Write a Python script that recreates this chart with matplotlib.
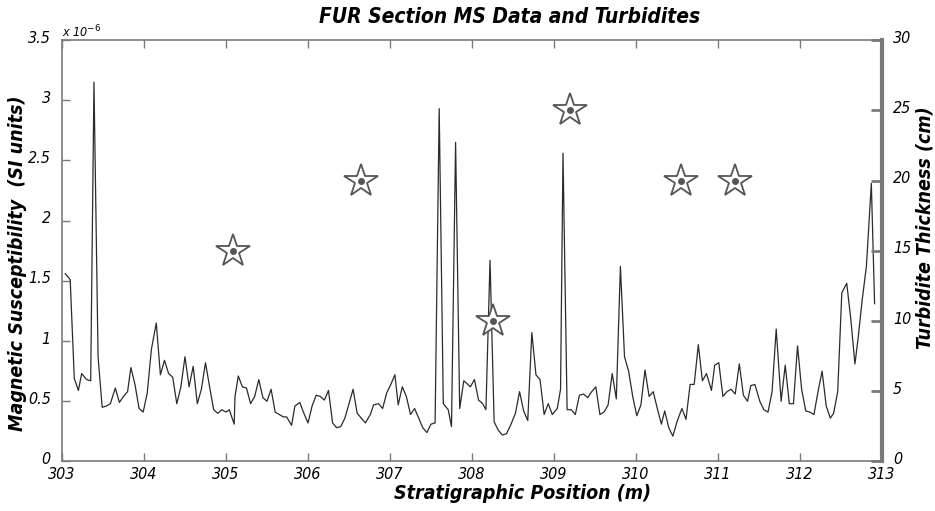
import matplotlib
matplotlib.use("Agg")
import matplotlib.pyplot as plt
from matplotlib import font_manager
from matplotlib.transforms import ScaledTranslation

# Magnetic susceptibility record (values in units of 1e-6 SI)
position_m = [
    303.04, 303.10, 303.15, 303.20, 303.24, 303.30, 303.35, 303.39, 303.44, 303.49,
    303.54, 303.59, 303.65, 303.70, 303.75, 303.80, 303.84, 303.89, 303.94, 303.99,
    304.04, 304.09, 304.15, 304.20, 304.25, 304.30, 304.35, 304.40, 304.45, 304.50,
    304.55, 304.60, 304.65, 304.70, 304.75, 304.80, 304.85, 304.90, 304.95, 305.00,
    305.04, 305.10, 305.11, 305.15, 305.20, 305.25, 305.30, 305.35, 305.40, 305.45,
    305.50, 305.55, 305.60, 305.65, 305.70, 305.74, 305.80, 305.84, 305.90, 305.95,
    306.00, 306.05, 306.10, 306.15, 306.20, 306.25, 306.30, 306.35, 306.40, 306.45,
    306.50, 306.55, 306.60, 306.65, 306.70, 306.76, 306.80, 306.86, 306.91, 306.96,
    307.01, 307.06, 307.10, 307.15, 307.20, 307.25, 307.30, 307.35, 307.40, 307.45,
    307.50, 307.55, 307.60, 307.65, 307.71, 307.75, 307.80, 307.85, 307.90, 307.95,
    307.98, 308.03, 308.08, 308.13, 308.17, 308.22, 308.27, 308.32, 308.37, 308.42,
    308.47, 308.53, 308.58, 308.63, 308.68, 308.73, 308.78, 308.83, 308.88, 308.93,
    308.98, 309.04, 309.08, 309.11, 309.16, 309.21, 309.26, 309.31, 309.36, 309.41,
    309.46, 309.51, 309.56, 309.61, 309.66, 309.71, 309.76, 309.81, 309.86, 309.91,
    309.96, 310.01, 310.06, 310.11, 310.16, 310.21, 310.26, 310.31, 310.35, 310.40,
    310.45, 310.50, 310.56, 310.61, 310.66, 310.71, 310.76, 310.81, 310.86, 310.92,
    310.96, 311.01, 311.06, 311.11, 311.16, 311.21, 311.26, 311.31, 311.36, 311.40,
    311.45, 311.51, 311.56, 311.61, 311.66, 311.71, 311.77, 311.82, 311.87, 311.92,
    311.97, 312.02, 312.07, 312.12, 312.17, 312.22, 312.27, 312.32, 312.37, 312.41,
    312.46, 312.51, 312.57, 312.62, 312.67, 312.71, 312.76, 312.81, 312.87, 312.91,
]
ms_values = [
    1.56, 1.51, 0.69, 0.59, 0.73, 0.68, 0.67, 3.15, 0.87, 0.45,
    0.46, 0.48, 0.61, 0.49, 0.54, 0.58, 0.78, 0.64, 0.44, 0.41,
    0.57, 0.93, 1.15, 0.72, 0.84, 0.73, 0.70, 0.48, 0.62, 0.87,
    0.62, 0.79, 0.48, 0.60, 0.82, 0.62, 0.43, 0.40, 0.43, 0.41,
    0.43, 0.31, 0.54, 0.71, 0.62, 0.61, 0.48, 0.54, 0.68, 0.53,
    0.50, 0.60, 0.41, 0.39, 0.37, 0.37, 0.30, 0.46, 0.49, 0.40,
    0.32, 0.46, 0.55, 0.54, 0.51, 0.59, 0.32, 0.28, 0.29, 0.36,
    0.48, 0.60, 0.40, 0.36, 0.32, 0.39, 0.47, 0.48, 0.44, 0.57,
    0.64, 0.72, 0.47, 0.62, 0.54, 0.39, 0.44, 0.36, 0.28, 0.24,
    0.31, 0.32, 2.93, 0.48, 0.43, 0.29, 2.65, 0.44, 0.67, 0.64,
    0.62, 0.68, 0.51, 0.48, 0.43, 1.67, 0.33, 0.26, 0.22, 0.23,
    0.30, 0.40, 0.58, 0.42, 0.34, 1.07, 0.72, 0.68, 0.39, 0.48,
    0.39, 0.44, 0.60, 2.56, 0.43, 0.43, 0.39, 0.55, 0.56, 0.53,
    0.58, 0.62, 0.39, 0.41, 0.47, 0.73, 0.52, 1.62, 0.87, 0.75,
    0.54, 0.38, 0.47, 0.76, 0.54, 0.58, 0.44, 0.31, 0.42, 0.28,
    0.21, 0.33, 0.44, 0.35, 0.64, 0.64, 0.97, 0.67, 0.73, 0.59,
    0.80, 0.82, 0.54, 0.58, 0.60, 0.56, 0.81, 0.55, 0.50, 0.63,
    0.64, 0.50, 0.43, 0.41, 0.58, 1.10, 0.50, 0.80, 0.48, 0.48,
    0.96, 0.60, 0.42, 0.41, 0.39, 0.58, 0.75, 0.46, 0.36, 0.40,
    0.58, 1.40, 1.48, 1.18, 0.81, 1.03, 1.35, 1.62, 2.31, 1.31,
]

# Turbidites (thickness in cm, right axis)
turbidite_pos = [305.09, 306.65, 308.26, 309.20, 310.55, 311.21]
turbidite_cm = [15, 20, 10, 25, 20, 20]

x_ticks = [303, 304, 305, 306, 307, 308, 309, 310, 311, 312, 313]
left_ticks = [0, 0.5, 1, 1.5, 2, 2.5, 3, 3.5]
left_tick_labels = ["0", "0.5", "1", "1.5", "2", "2.5", "3", "3.5"]
right_ticks = [0, 5, 10, 15, 20, 25, 30]

available = {f.name for f in font_manager.fontManager.ttflist}
if "Liberation Sans Narrow" in available:
    FONT = dict(family=["Liberation Sans Narrow", "DejaVu Sans"], style="italic")
    SZ_T, SZ_L, SZ_TITLE = 12.5, 15, 16.5
else:
    FONT = dict(family="DejaVu Sans", stretch="condensed", style="italic")
    SZ_T, SZ_L, SZ_TITLE = 11.5, 14, 15
spine_col = "#7a7a7a"

fig = plt.figure(figsize=(9.35, 5.11), dpi=100)
ax = fig.add_axes([0.0663, 0.0969, 0.8770, 0.8248])

ax.plot(position_m, ms_values, color="#2b2b2b", lw=0.9)
ax.set_xlim(303, 313)
ax.set_ylim(0, 3.5)
ax.set_xticks(x_ticks)
ax.set_xticklabels([str(t) for t in x_ticks], fontsize=SZ_T, **FONT)
ax.set_yticks(left_ticks)
ax.set_yticklabels(left_tick_labels, fontsize=SZ_T, **FONT)
ax.tick_params(axis="both", direction="in", length=6, width=1, color=spine_col,
               top=True, right=False)
ax.tick_params(axis="x", pad=4)
ax.tick_params(axis="y", pad=8)
for s in ["left", "top", "bottom"]:
    ax.spines[s].set_color(spine_col)
    ax.spines[s].set_linewidth(1.2)
ax.spines["right"].set_visible(False)

up = ScaledTranslation(0, 2.5 / 72, fig.dpi_scale_trans)
for lab in ax.get_yticklabels():
    lab.set_transform(lab.get_transform() + up)

ax.text(0.0, 1.0, "x 10$^{-6}$", transform=ax.transAxes, fontsize=9,
        ha="left", va="bottom", **FONT)

ax.set_xlabel("Stratigraphic Position (m)", fontsize=SZ_L, fontweight="bold",
              **FONT)
ax.xaxis.set_label_coords(0.561, -0.053)
ax.set_ylabel("Magnetic Susceptibility  (SI units)", fontsize=SZ_L,
              fontweight="bold", **FONT)
ax.yaxis.set_label_coords(-0.0425, 0.47)
ax.set_title("FUR Section MS Data and Turbidites", fontsize=SZ_TITLE,
             fontweight="bold", pad=12, x=0.546, **FONT)

ax2 = ax.twinx()
ax2.set_ylim(0, 30)
ax2.set_yticks(right_ticks)
ax2.set_yticklabels([str(t) for t in right_ticks], fontsize=SZ_T, **FONT)
ax2.tick_params(axis="y", direction="in", length=8, width=2, color=spine_col, pad=8)
for lab in ax2.get_yticklabels():
    lab.set_transform(lab.get_transform() + up)
for s in ["left", "top", "bottom"]:
    ax2.spines[s].set_visible(False)
ax2.spines["right"].set_color(spine_col)
ax2.spines["right"].set_linewidth(3)
ax2.plot(turbidite_pos, turbidite_cm, linestyle="none", marker="*",
         markersize=25, markerfacecolor="white", markeredgecolor="#555555",
         markeredgewidth=1.3)
ax2.plot(turbidite_pos, turbidite_cm, linestyle="none", marker="o",
         markersize=4, color="#555555")
ax2.set_ylabel("Turbidite Thickness (cm)", fontsize=SZ_L, fontweight="bold",
               **FONT)
ax2.yaxis.set_label_coords(1.041, 0.554)

fig.savefig("out.png", dpi=100)
